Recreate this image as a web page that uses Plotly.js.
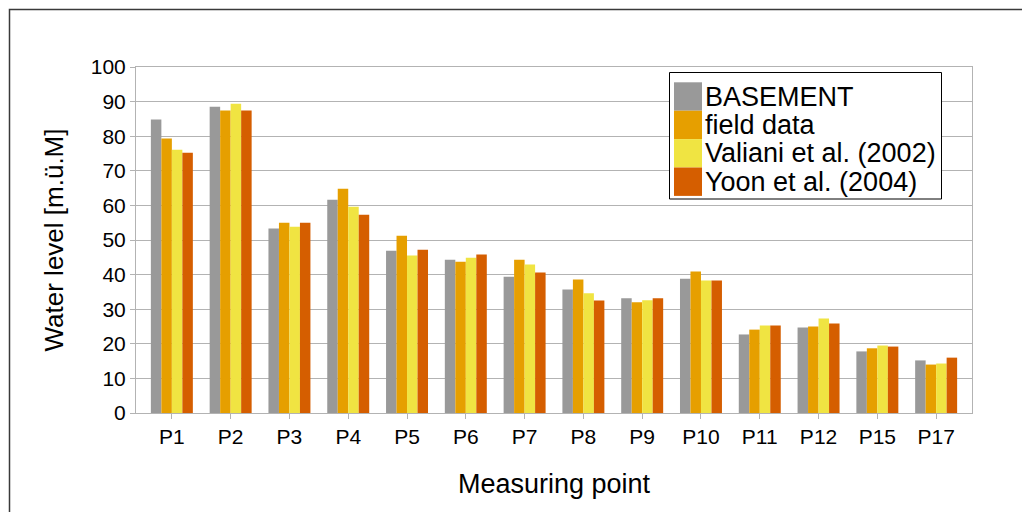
<!DOCTYPE html>
<html>
<head>
<meta charset="utf-8">
<script src="https://cdn.plot.ly/plotly-3.0.1.min.js"></script>
<style>html,body{margin:0;padding:0;background:#fff;}#chart{width:1022px;height:512px;}</style>
</head>
<body>
<div id="chart"></div>
<script>
const categories = ["P1","P2","P3","P4","P5","P6","P7","P8","P9","P10","P11","P12","P15","P17"];
const seriesNames = ["BASEMENT","field data","Valiani et al. (2002)","Yoon et al. (2004)"];
const basement = [84.8,88.5,53.3,61.6,46.9,44.3,39.4,35.7,33.2,38.8,22.7,24.7,17.8,15.2];
const fieldData = [79.3,87.4,55.0,64.8,51.2,43.7,44.3,38.6,32.0,40.9,24.1,25.0,18.7,14.0];
const valiani = [76.1,89.4,53.8,59.6,45.5,44.9,42.9,34.6,32.6,38.3,25.3,27.3,19.5,14.3];
const yoon = [75.2,87.4,55.0,57.3,47.2,45.8,40.6,32.5,33.2,38.3,25.3,25.9,19.2,16.0];
const colors = ["#999999","#E69F00","#F0E442","#D55E00"];
const xTitle = "Measuring point";
const yTitle = "Water level [m.ü.M]";

const W = 1022, H = 512;
const M = {l:136, r:50, t:67, b:99};
const PW = W - M.l - M.r, PH = H - M.t - M.b;
const px = x => (x - M.l) / PW;
const py = y => (H - M.b - y) / PH;

const allSeries = [basement, fieldData, valiani, yoon];
const traces = allSeries.map((vals, i) => ({
  type: "bar", x: categories, y: vals, name: seriesNames[i],
  marker: {color: colors[i], line: {width: 0}}, showlegend: false, hoverinfo: "skip"
}));

const shapes = [];
const annotations = [];
// outer frame
shapes.push({type:"rect", xref:"paper", yref:"paper", x0:px(9.5), y0:py(530), x1:px(1040), y1:py(9.5), line:{color:"#3a3a3a", width:1.5}, layer:"below"});
// legend box
shapes.push({type:"rect", xref:"paper", yref:"paper", x0:px(669.5), y0:py(199), x1:px(941.5), y1:py(72.5), line:{color:"#000", width:1}, fillcolor:"#fff", layer:"above"});
const itemTop = 82.3, itemH = 28.4;
seriesNames.forEach((n, i) => {
  const t = itemTop + i*itemH;
  shapes.push({type:"rect", xref:"paper", yref:"paper", x0:px(674), x1:px(702), y0:py(t+itemH), y1:py(t), line:{width:0}, fillcolor:colors[i], layer:"above"});
  annotations.push({xref:"paper", yref:"paper", x:px(703), y:py(t+itemH/2), xanchor:"left", yanchor:"middle", text:n, showarrow:false, font:{family:"Liberation Sans, Arial, sans-serif", size:27, color:"#000"}});
});

const layout = {
  width: W, height: H,
  margin: M,
  paper_bgcolor: "#fff", plot_bgcolor: "#fff",
  barmode: "group", bargap: 0.286, bargroupgap: 0,
  showlegend: false,
  font: {family: "Liberation Sans, Arial, sans-serif", color: "#000"},
  xaxis: {
    type: "category", range: [-0.61, categories.length - 1 + 0.61],
    showline: true, linecolor: "#b3b3b3", linewidth: 1, mirror: true,
    ticks: "outside", ticklen: 5, tickcolor: "#b3b3b3",
    tickfont: {size: 21, color: "#000"}, showgrid: false, automargin: false,
    title: {text: xTitle, font: {size: 27, color: "#000"}, standoff: 26}
  },
  yaxis: {
    range: [0, 100], dtick: 10, tick0: 0, showline: true, linecolor: "#b3b3b3", linewidth: 1, mirror: true,
    ticks: "outside", ticklen: 5, tickcolor: "#b3b3b3",
    showgrid: true, gridcolor: "#b3b3b3", gridwidth: 1, zeroline: false,
    tickfont: {size: 21, color: "#000"}, automargin: false,
    title: {text: yTitle, font: {size: 26, color: "#000"}, standoff: 19}
  },
  shapes: shapes,
  annotations: annotations
};

Plotly.newPlot("chart", traces, layout, {staticPlot: true, displayModeBar: false});
</script>
</body>
</html>
